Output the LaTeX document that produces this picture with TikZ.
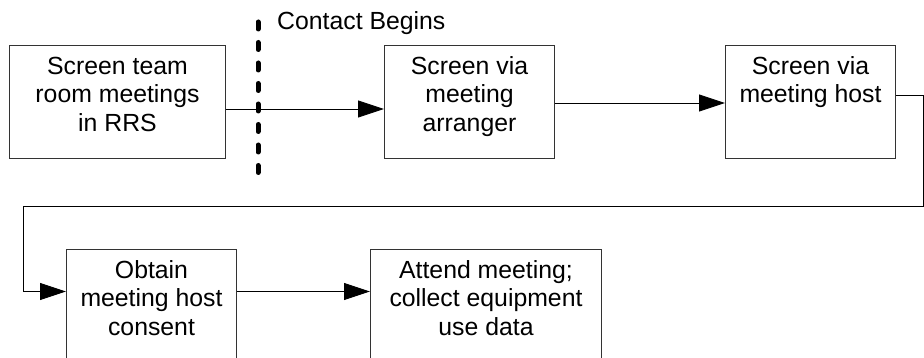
\documentclass[tikz,border=0pt]{standalone}
\usepackage{fontspec}
\setmainfont{Liberation Sans}
\usetikzlibrary{arrows.meta,positioning}
\definecolor{ink}{HTML}{000000}
\definecolor{edge}{HTML}{333333}
\newcommand{\stepcell}[1]{\begin{tabular}[t]{@{}c@{}}#1\end{tabular}}

\begin{document}
\begin{tikzpicture}[
  x=1pt, y=-1pt,
  font=\fontsize{24.8}{28.5}\selectfont,
  stepbox/.style={draw=edge, line width=1pt, anchor=north west,
    minimum width=170pt, inner xsep=0pt, inner ysep=11pt,
    text height=17.8pt, text depth=73.2pt},
  flow/.style={-{Triangle[length=26pt, width=17pt]}, line width=0.9pt, draw=ink},
  barrier/.style={line width=5pt, line cap=round, dash pattern=on 7pt off 13.5pt}
]
\useasboundingbox (0,0) rectangle (924,358);
\node[stepbox, minimum width=216pt] (team) at (9,45) {\stepcell{Screen team\\room meetings\\in RRS}};
\node[stepbox, anchor=west, right=158pt of team] (arranger) {\stepcell{Screen via\\meeting\\arranger}};
\node[stepbox, anchor=west, right=170pt of arranger] (host) {\stepcell{Screen via\\meeting host}};
\node[stepbox] (consent) at (66,249) {\stepcell{Obtain\\meeting host\\consent}};
\node[stepbox, anchor=west, minimum width=231pt, right=133pt of consent] (attend) {\stepcell{Attend meeting;\\collect equipment\\use data}};
% contact line
\coordinate (contact-top) at (258,22);
\coordinate (contact-bot) at (258,173);
\draw[barrier] (contact-top) -- (contact-bot);
\node[anchor=base west, inner sep=0pt] (contact) at (277,30) {Contact Begins};
% loop back to the second row
\coordinate (loop-r) at (923,206);
\coordinate (loop-l) at (23,206);
\draw[flow] ([yshift=-7pt]team.east) -- ([yshift=-7pt]arranger.west);
\draw[flow] ([yshift=-1pt]arranger.east) -- ([yshift=-1pt]host.west);
\draw[flow] ([yshift=7pt]host.east) -| (loop-r) -- (loop-l) |- ([yshift=14.5pt]consent.west);
\draw[flow] ([yshift=14.5pt]consent.east) -- ([yshift=14.5pt]attend.west);
\end{tikzpicture}
\end{document}
